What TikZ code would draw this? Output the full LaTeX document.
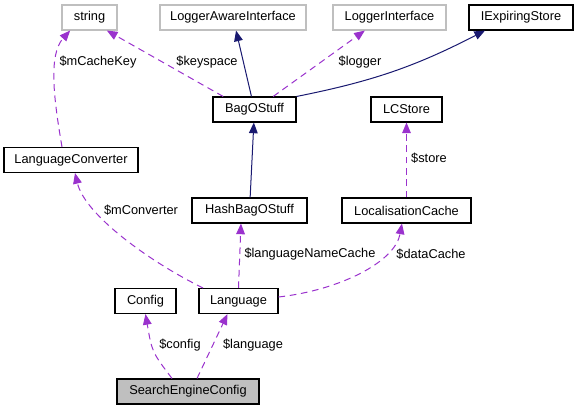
\documentclass[tikz,border=0pt]{standalone}
\usepackage{fontspec}
\setmainfont{Liberation Sans}
\usepackage{xcolor}
\usepackage{tikz}
\usetikzlibrary{arrows.meta, positioning}

\definecolor{refpurple}{HTML}{9A32CD}
\definecolor{refnavy}{HTML}{191970}
\definecolor{refgray}{HTML}{BFBFBF}

\begin{document}
\begin{tikzpicture}[
  x=0.75pt, y=-0.75pt,
  every node/.style={font=\fontsize{9.6}{11}\selectfont, align=center},
  cls/.style={draw=black, line width=0.8pt, minimum height=18.75pt, inner sep=1pt},
  ext/.style={cls, draw=refgray},
  lbl/.style={inner sep=0pt},
  inherit/.style={draw=refnavy, line width=0.75pt, -{Triangle[length=8pt, width=6.5pt]}, refnavy},
  member/.style={draw=refpurple, line width=0.75pt, dash pattern=on 5pt off 3.5pt,
                 -{Triangle[length=8pt, width=6.5pt]}, refpurple}
]
\useasboundingbox (0,0) rectangle (579,411);

% Top row
\node[ext, minimum width=41.25pt] (string) at (89.5,17.5) {string};
\node[ext, minimum width=109.5pt] (loggeraware) at (233,17.5) {LoggerAwareInterface};
\node[ext, minimum width=84.75pt] (logger) at (389.5,17.5) {LoggerInterface};
\node[cls, minimum width=78pt] (expiring) at (521,17.5) {IExpiringStore};

% Second row
\node[cls, minimum width=62.25pt] (bag) at (254.5,109.5) {BagOStuff};
\node[cls, minimum width=53.25pt] (lcstore) at (406.5,109.5) {LCStore};
\node[cls, minimum width=100.5pt] (langconv) at (71,160) {LanguageConverter};

\draw[inherit] (bag) -- (loggeraware);
\draw[inherit] (bag.north east) to[bend right=8] ([xshift=-27pt]expiring.south);
\draw[member] ([xshift=-23.5pt]bag.north) -- ([xshift=13pt]string.south);
\draw[member] ([xshift=14pt]bag.north) -- ([xshift=-18.5pt]logger.south);
\draw[member] ([xshift=-6.75pt]langconv.north) .. controls (54,100) and (48,55) .. ([xshift=-14.5pt]string.south);

\node[lbl] (lkeyspace) at (207,62) {\$keyspace};
\node[lbl] (llogger) at (360,62) {\$logger};
\node[lbl] (lcachekey) at (98,62) {\$mCacheKey};

% Third row
\node[cls, minimum width=86.25pt] (hashbag) at (249.5,210.5) {HashBagOStuff};
\node[cls, minimum width=96.75pt] (lcache) at (406.5,210.5) {LocalisationCache};

\draw[inherit] (hashbag) -- (bag);
\draw[member] (lcache) -- (lcstore);

\node[lbl] (lstore) at (429,158) {\$store};

% Fourth row
\node[cls, minimum width=45.75pt] (config) at (145.5,301) {Config};
\node[cls, minimum width=59.25pt] (language) at (238.5,301) {Language};

\draw[member] ([xshift=-26.6pt]language.north) .. controls (150,262) and (85,215) .. ([xshift=3pt]langconv.south);
\draw[member] (language.north) -- ([xshift=-6.4pt]hashbag.south);
\draw[member] ([yshift=3pt]language.east) .. controls (340,290) and (395,262) .. ([xshift=-3.4pt]lcache.south);

\node[lbl] (lconverter) at (141,210) {\$mConverter};
\node[lbl] (lnamecache) at (310,254) {\$languageNameCache};
\node[lbl] (ldatacache) at (431,254) {\$dataCache};

% Bottom row
\node[cls, fill=refgray, minimum width=106.5pt] (sec) at (188,391.5) {SearchEngineConfig};

\draw[member] ([xshift=-12pt]sec.north) .. controls (152,352) .. (config.south);
\draw[member] ([xshift=6.75pt]sec.north) -- ([xshift=-8.25pt]language.south);

\node[lbl] (lconfig) at (180,345) {\$config};
\node[lbl] (llanguage) at (253,345) {\$language};
\end{tikzpicture}
\end{document}
